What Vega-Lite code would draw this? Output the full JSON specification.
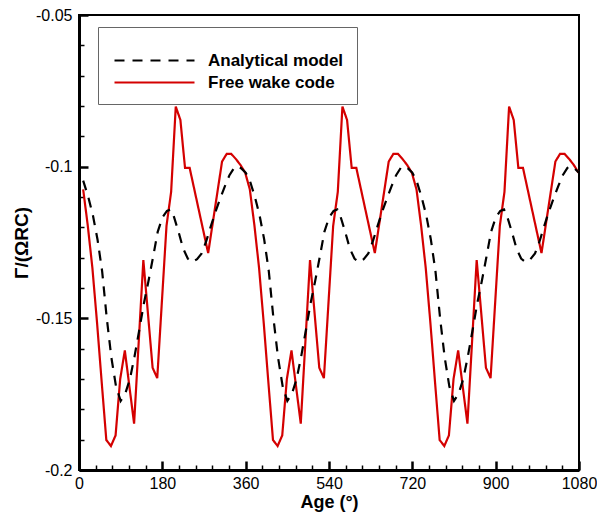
{
  "$schema": "https://vega.github.io/schema/vega-lite/v6.json",
  "width": 500,
  "height": 455,
  "autosize": "none",
  "padding": {"left": 79, "top": 15, "right": 18, "bottom": 45},
  "config": {
    "font": "Liberation Sans",
    "view": {"stroke": "#000000", "strokeWidth": 2}
  },
  "data": {
    "values": [
      {"series":"Free wake code","age":9,"gamma":-0.1075},
      {"series":"Free wake code","age":19,"gamma":-0.1195},
      {"series":"Free wake code","age":29,"gamma":-0.1335},
      {"series":"Free wake code","age":39,"gamma":-0.1515},
      {"series":"Free wake code","age":49,"gamma":-0.1710},
      {"series":"Free wake code","age":59,"gamma":-0.1901},
      {"series":"Free wake code","age":69,"gamma":-0.1921},
      {"series":"Free wake code","age":79,"gamma":-0.1886},
      {"series":"Free wake code","age":89,"gamma":-0.1700},
      {"series":"Free wake code","age":99,"gamma":-0.1606},
      {"series":"Free wake code","age":119,"gamma":-0.1847},
      {"series":"Free wake code","age":139,"gamma":-0.1308},
      {"series":"Free wake code","age":159,"gamma":-0.1663},
      {"series":"Free wake code","age":169,"gamma":-0.1697},
      {"series":"Free wake code","age":189,"gamma":-0.1195},
      {"series":"Free wake code","age":199,"gamma":-0.1083},
      {"series":"Free wake code","age":209,"gamma":-0.0802},
      {"series":"Free wake code","age":219,"gamma":-0.0846},
      {"series":"Free wake code","age":229,"gamma":-0.1004},
      {"series":"Free wake code","age":239,"gamma":-0.1004},
      {"series":"Free wake code","age":279,"gamma":-0.1285},
      {"series":"Free wake code","age":309,"gamma":-0.0983},
      {"series":"Free wake code","age":319,"gamma":-0.0958},
      {"series":"Free wake code","age":329,"gamma":-0.0958},
      {"series":"Free wake code","age":339,"gamma":-0.0975},
      {"series":"Free wake code","age":349,"gamma":-0.0995},
      {"series":"Free wake code","age":359,"gamma":-0.1020},
      {"series":"Free wake code","age":369,"gamma":-0.1075},
      {"series":"Free wake code","age":379,"gamma":-0.1195},
      {"series":"Free wake code","age":389,"gamma":-0.1335},
      {"series":"Free wake code","age":399,"gamma":-0.1515},
      {"series":"Free wake code","age":409,"gamma":-0.1710},
      {"series":"Free wake code","age":419,"gamma":-0.1901},
      {"series":"Free wake code","age":429,"gamma":-0.1921},
      {"series":"Free wake code","age":439,"gamma":-0.1886},
      {"series":"Free wake code","age":449,"gamma":-0.1700},
      {"series":"Free wake code","age":459,"gamma":-0.1606},
      {"series":"Free wake code","age":479,"gamma":-0.1847},
      {"series":"Free wake code","age":499,"gamma":-0.1308},
      {"series":"Free wake code","age":519,"gamma":-0.1663},
      {"series":"Free wake code","age":529,"gamma":-0.1697},
      {"series":"Free wake code","age":549,"gamma":-0.1195},
      {"series":"Free wake code","age":559,"gamma":-0.1083},
      {"series":"Free wake code","age":569,"gamma":-0.0802},
      {"series":"Free wake code","age":579,"gamma":-0.0846},
      {"series":"Free wake code","age":589,"gamma":-0.1004},
      {"series":"Free wake code","age":599,"gamma":-0.1004},
      {"series":"Free wake code","age":639,"gamma":-0.1285},
      {"series":"Free wake code","age":669,"gamma":-0.0983},
      {"series":"Free wake code","age":679,"gamma":-0.0958},
      {"series":"Free wake code","age":689,"gamma":-0.0958},
      {"series":"Free wake code","age":699,"gamma":-0.0975},
      {"series":"Free wake code","age":709,"gamma":-0.0995},
      {"series":"Free wake code","age":719,"gamma":-0.1020},
      {"series":"Free wake code","age":729,"gamma":-0.1075},
      {"series":"Free wake code","age":739,"gamma":-0.1195},
      {"series":"Free wake code","age":749,"gamma":-0.1335},
      {"series":"Free wake code","age":759,"gamma":-0.1515},
      {"series":"Free wake code","age":769,"gamma":-0.1710},
      {"series":"Free wake code","age":779,"gamma":-0.1901},
      {"series":"Free wake code","age":789,"gamma":-0.1921},
      {"series":"Free wake code","age":799,"gamma":-0.1886},
      {"series":"Free wake code","age":809,"gamma":-0.1700},
      {"series":"Free wake code","age":819,"gamma":-0.1606},
      {"series":"Free wake code","age":839,"gamma":-0.1847},
      {"series":"Free wake code","age":859,"gamma":-0.1308},
      {"series":"Free wake code","age":879,"gamma":-0.1663},
      {"series":"Free wake code","age":889,"gamma":-0.1697},
      {"series":"Free wake code","age":909,"gamma":-0.1195},
      {"series":"Free wake code","age":919,"gamma":-0.1083},
      {"series":"Free wake code","age":929,"gamma":-0.0802},
      {"series":"Free wake code","age":939,"gamma":-0.0846},
      {"series":"Free wake code","age":949,"gamma":-0.1004},
      {"series":"Free wake code","age":959,"gamma":-0.1004},
      {"series":"Free wake code","age":999,"gamma":-0.1285},
      {"series":"Free wake code","age":1029,"gamma":-0.0983},
      {"series":"Free wake code","age":1039,"gamma":-0.0958},
      {"series":"Free wake code","age":1049,"gamma":-0.0958},
      {"series":"Free wake code","age":1059,"gamma":-0.0975},
      {"series":"Free wake code","age":1069,"gamma":-0.0995},
      {"series":"Free wake code","age":1079,"gamma":-0.1020},

      {"series":"Analytical model","age":9,"gamma":-0.1046},
      {"series":"Analytical model","age":20,"gamma":-0.1100},
      {"series":"Analytical model","age":30,"gamma":-0.1160},
      {"series":"Analytical model","age":40,"gamma":-0.1240},
      {"series":"Analytical model","age":50,"gamma":-0.1345},
      {"series":"Analytical model","age":60,"gamma":-0.1500},
      {"series":"Analytical model","age":70,"gamma":-0.1630},
      {"series":"Analytical model","age":80,"gamma":-0.1725},
      {"series":"Analytical model","age":90,"gamma":-0.1772},
      {"series":"Analytical model","age":100,"gamma":-0.1748},
      {"series":"Analytical model","age":110,"gamma":-0.1700},
      {"series":"Analytical model","age":120,"gamma":-0.1625},
      {"series":"Analytical model","age":130,"gamma":-0.1540},
      {"series":"Analytical model","age":140,"gamma":-0.1452},
      {"series":"Analytical model","age":150,"gamma":-0.1378},
      {"series":"Analytical model","age":160,"gamma":-0.1298},
      {"series":"Analytical model","age":170,"gamma":-0.1215},
      {"series":"Analytical model","age":180,"gamma":-0.1168},
      {"series":"Analytical model","age":190,"gamma":-0.1146},
      {"series":"Analytical model","age":198,"gamma":-0.1141},
      {"series":"Analytical model","age":205,"gamma":-0.1165},
      {"series":"Analytical model","age":215,"gamma":-0.1215},
      {"series":"Analytical model","age":225,"gamma":-0.1270},
      {"series":"Analytical model","age":235,"gamma":-0.1303},
      {"series":"Analytical model","age":245,"gamma":-0.1315},
      {"series":"Analytical model","age":255,"gamma":-0.1305},
      {"series":"Analytical model","age":265,"gamma":-0.1286},
      {"series":"Analytical model","age":275,"gamma":-0.1245},
      {"series":"Analytical model","age":285,"gamma":-0.1195},
      {"series":"Analytical model","age":295,"gamma":-0.1148},
      {"series":"Analytical model","age":305,"gamma":-0.1105},
      {"series":"Analytical model","age":315,"gamma":-0.1065},
      {"series":"Analytical model","age":325,"gamma":-0.1028},
      {"series":"Analytical model","age":335,"gamma":-0.1004},
      {"series":"Analytical model","age":342,"gamma":-0.0998},
      {"series":"Analytical model","age":350,"gamma":-0.1005},
      {"series":"Analytical model","age":360,"gamma":-0.1020},
      {"series":"Analytical model","age":369,"gamma":-0.1046},
      {"series":"Analytical model","age":380,"gamma":-0.1100},
      {"series":"Analytical model","age":390,"gamma":-0.1160},
      {"series":"Analytical model","age":400,"gamma":-0.1240},
      {"series":"Analytical model","age":410,"gamma":-0.1345},
      {"series":"Analytical model","age":420,"gamma":-0.1500},
      {"series":"Analytical model","age":430,"gamma":-0.1630},
      {"series":"Analytical model","age":440,"gamma":-0.1725},
      {"series":"Analytical model","age":450,"gamma":-0.1772},
      {"series":"Analytical model","age":460,"gamma":-0.1748},
      {"series":"Analytical model","age":470,"gamma":-0.1700},
      {"series":"Analytical model","age":480,"gamma":-0.1625},
      {"series":"Analytical model","age":490,"gamma":-0.1540},
      {"series":"Analytical model","age":500,"gamma":-0.1452},
      {"series":"Analytical model","age":510,"gamma":-0.1378},
      {"series":"Analytical model","age":520,"gamma":-0.1298},
      {"series":"Analytical model","age":530,"gamma":-0.1215},
      {"series":"Analytical model","age":540,"gamma":-0.1168},
      {"series":"Analytical model","age":550,"gamma":-0.1146},
      {"series":"Analytical model","age":558,"gamma":-0.1141},
      {"series":"Analytical model","age":565,"gamma":-0.1165},
      {"series":"Analytical model","age":575,"gamma":-0.1215},
      {"series":"Analytical model","age":585,"gamma":-0.1270},
      {"series":"Analytical model","age":595,"gamma":-0.1303},
      {"series":"Analytical model","age":605,"gamma":-0.1315},
      {"series":"Analytical model","age":615,"gamma":-0.1305},
      {"series":"Analytical model","age":625,"gamma":-0.1286},
      {"series":"Analytical model","age":635,"gamma":-0.1245},
      {"series":"Analytical model","age":645,"gamma":-0.1195},
      {"series":"Analytical model","age":655,"gamma":-0.1148},
      {"series":"Analytical model","age":665,"gamma":-0.1105},
      {"series":"Analytical model","age":675,"gamma":-0.1065},
      {"series":"Analytical model","age":685,"gamma":-0.1028},
      {"series":"Analytical model","age":695,"gamma":-0.1004},
      {"series":"Analytical model","age":702,"gamma":-0.0998},
      {"series":"Analytical model","age":710,"gamma":-0.1005},
      {"series":"Analytical model","age":720,"gamma":-0.1020},
      {"series":"Analytical model","age":729,"gamma":-0.1046},
      {"series":"Analytical model","age":740,"gamma":-0.1100},
      {"series":"Analytical model","age":750,"gamma":-0.1160},
      {"series":"Analytical model","age":760,"gamma":-0.1240},
      {"series":"Analytical model","age":770,"gamma":-0.1345},
      {"series":"Analytical model","age":780,"gamma":-0.1500},
      {"series":"Analytical model","age":790,"gamma":-0.1630},
      {"series":"Analytical model","age":800,"gamma":-0.1725},
      {"series":"Analytical model","age":810,"gamma":-0.1772},
      {"series":"Analytical model","age":820,"gamma":-0.1748},
      {"series":"Analytical model","age":830,"gamma":-0.1700},
      {"series":"Analytical model","age":840,"gamma":-0.1625},
      {"series":"Analytical model","age":850,"gamma":-0.1540},
      {"series":"Analytical model","age":860,"gamma":-0.1452},
      {"series":"Analytical model","age":870,"gamma":-0.1378},
      {"series":"Analytical model","age":880,"gamma":-0.1298},
      {"series":"Analytical model","age":890,"gamma":-0.1215},
      {"series":"Analytical model","age":900,"gamma":-0.1168},
      {"series":"Analytical model","age":910,"gamma":-0.1146},
      {"series":"Analytical model","age":918,"gamma":-0.1141},
      {"series":"Analytical model","age":925,"gamma":-0.1165},
      {"series":"Analytical model","age":935,"gamma":-0.1215},
      {"series":"Analytical model","age":945,"gamma":-0.1270},
      {"series":"Analytical model","age":955,"gamma":-0.1303},
      {"series":"Analytical model","age":965,"gamma":-0.1315},
      {"series":"Analytical model","age":975,"gamma":-0.1305},
      {"series":"Analytical model","age":985,"gamma":-0.1286},
      {"series":"Analytical model","age":995,"gamma":-0.1245},
      {"series":"Analytical model","age":1005,"gamma":-0.1195},
      {"series":"Analytical model","age":1015,"gamma":-0.1148},
      {"series":"Analytical model","age":1025,"gamma":-0.1105},
      {"series":"Analytical model","age":1035,"gamma":-0.1065},
      {"series":"Analytical model","age":1045,"gamma":-0.1028},
      {"series":"Analytical model","age":1055,"gamma":-0.1004},
      {"series":"Analytical model","age":1062,"gamma":-0.0998},
      {"series":"Analytical model","age":1070,"gamma":-0.1005},
      {"series":"Analytical model","age":1080,"gamma":-0.1020}
    ]
  },
  "resolve": {"axis": {"x": "independent", "y": "independent"}},
  "layer": [
    {
      "mark": {"type": "line", "strokeOpacity": 0},
      "encoding": {
        "detail": {"field": "series", "type": "nominal"},
        "x": {
          "field": "age",
          "type": "quantitative",
          "scale": {"domain": [0, 1080], "nice": false, "zero": false},
          "axis": {
            "orient": "bottom",
            "title": null,
            "values": [36,72,108,144,216,252,288,324,396,432,468,504,576,612,648,684,756,792,828,864,936,972,1008,1044],
            "labels": false,
            "domain": false,
            "grid": false,
            "tickColor": "#000000",
            "tickSize": -5,
            "tickWidth": 1.5
          }
        },
        "y": {
          "field": "gamma",
          "type": "quantitative",
          "scale": {"domain": [-0.2, -0.05], "nice": false, "zero": false},
          "axis": {
            "orient": "left",
            "title": null,
            "values": [-0.19,-0.18,-0.17,-0.16,-0.14,-0.13,-0.12,-0.11,-0.09,-0.08,-0.07,-0.06],
            "labels": false,
            "domain": false,
            "grid": false,
            "tickColor": "#000000",
            "tickSize": -5,
            "tickWidth": 1.5
          }
        }
      }
    },
    {
      "mark": {"type": "line", "strokeWidth": 2.2, "clip": true},
      "encoding": {
        "x": {
          "field": "age",
          "type": "quantitative",
          "scale": {"domain": [0, 1080], "nice": false, "zero": false},
          "axis": {
            "orient": "bottom",
            "title": "Age (°)",
            "titleFont": "Liberation Sans",
            "titleFontSize": 18,
            "titleFontWeight": "bold",
            "titleColor": "#000000",
            "titlePadding": 2,
            "values": [0,180,360,540,720,900,1080],
            "labelExpr": "toString(datum.value)",
            "labelFontSize": 16,
            "labelColor": "#000000",
            "labelPadding": 14,
            "labelFlush": false,
            "labelOverlap": false,
            "grid": false,
            "domainColor": "#000000",
            "domainWidth": 3,
            "tickColor": "#000000",
            "tickSize": -9,
            "tickWidth": 2.5
          }
        },
        "y": {
          "field": "gamma",
          "type": "quantitative",
          "scale": {"domain": [-0.2, -0.05], "nice": false, "zero": false},
          "axis": {
            "orient": "left",
            "title": "Γ/(ΩRC)",
            "titleFont": "Liberation Sans",
            "titleFontSize": 19,
            "titleFontWeight": "bold",
            "titleColor": "#000000",
            "titlePadding": 4,
            "values": [-0.2,-0.15,-0.1,-0.05],
            "labelExpr": "toString(datum.value)",
            "labelFontSize": 16,
            "labelColor": "#000000",
            "labelPadding": 16,
            "labelFlush": false,
            "labelOverlap": false,
            "grid": false,
            "domainColor": "#000000",
            "domainWidth": 3,
            "tickColor": "#000000",
            "tickSize": -9,
            "tickWidth": 2.5
          }
        },
        "color": {
          "field": "series",
          "type": "nominal",
          "scale": {"domain": ["Analytical model", "Free wake code"], "range": ["#000000", "#d40000"]},
          "legend": {
            "title": " ",
            "titleFontSize": 9,
            "titlePadding": 0,
            "orient": "none",
            "legendX": 19,
            "legendY": 12,
            "padding": 13,
            "fillColor": "#ffffff",
            "strokeColor": "#666666",
            "symbolType": "M-4,0H4",
            "symbolSize": 400,
            "symbolStrokeWidth": 2.2,
            "symbolOffset": 32,
            "labelOffset": 42,
            "labelFont": "Liberation Sans",
            "labelFontSize": 17,
            "labelFontWeight": "bold",
            "labelColor": "#000000",
            "rowPadding": 2
          }
        },
        "strokeDash": {
          "field": "series",
          "type": "nominal",
          "scale": {"domain": ["Analytical model", "Free wake code"], "range": [[10, 8], [1, 0]]},
          "legend": {
            "title": " ",
            "titleFontSize": 9,
            "titlePadding": 0,
            "orient": "none",
            "legendX": 19,
            "legendY": 12,
            "padding": 13,
            "fillColor": "#ffffff",
            "strokeColor": "#666666",
            "symbolType": "M-4,0H4",
            "symbolSize": 400,
            "symbolStrokeWidth": 2.2,
            "symbolOffset": 32,
            "labelOffset": 42,
            "labelFont": "Liberation Sans",
            "labelFontSize": 17,
            "labelFontWeight": "bold",
            "labelColor": "#000000",
            "rowPadding": 2
          }
        }
      }
    }
  ]
}
